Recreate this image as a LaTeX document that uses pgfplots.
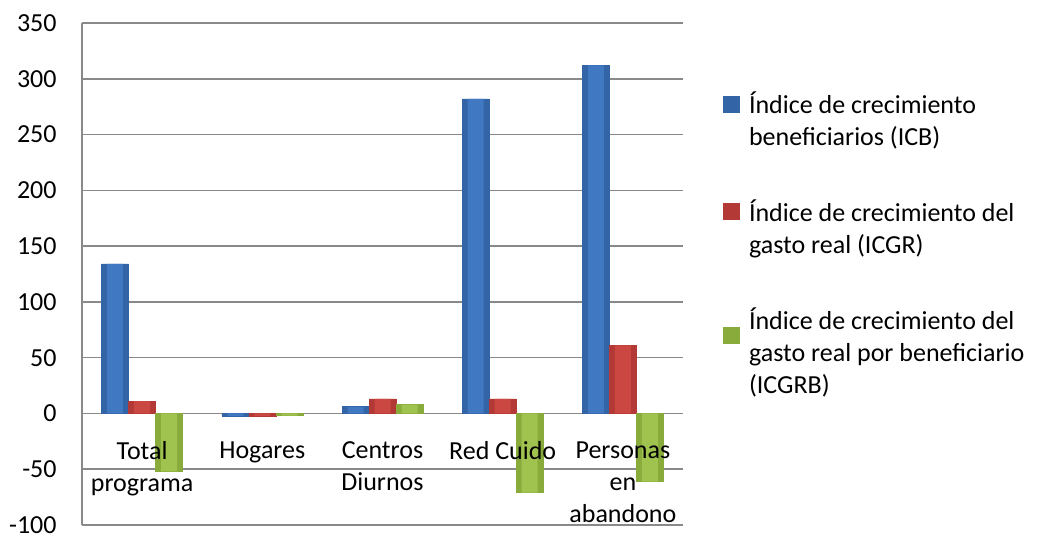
\documentclass[border=0pt]{standalone}
\usepackage{pgfplots}
\usepackage{pgfplotstable}
\pgfplotsset{compat=1.18}
\usepackage{fontspec}
\setmainfont{Carlito}
\definecolor{gridgray}{HTML}{898989}
\definecolor{bluemid}{HTML}{4079C2}
\definecolor{blueedge}{HTML}{3264A6}
\definecolor{redmid}{HTML}{CB4742}
\definecolor{rededge}{HTML}{B23935}
\definecolor{greenmid}{HTML}{A0C24F}
\definecolor{greenedge}{HTML}{88AB3C}
\pgfplotstableread{
cat ICB ICGR ICGRB
0 134 11 -52
1 -2.5 -2.5 -2
2 6 13 8
3 282 13 -71
4 312 61 -61
}\datatable
\begin{document}
\fontsize{13pt}{16pt}\selectfont
\begin{tikzpicture}
\useasboundingbox (-41pt,-6pt) rectangle (477.5pt,262.5pt);
\begin{axis}[
 at={(0,0)}, anchor=south west,
 scale only axis, width=300.5pt, height=251pt,
 ybar=0pt, bar width=13.5pt,
 xmin=-0.5, xmax=4.5, ymin=-100, ymax=350,
 ytick={-100,-50,...,350},
 xtick=\empty,
 axis x line*=middle, axis y line*=left,
 hide obscured y ticks=false,
 x axis line style={draw=none},
 y axis line style={draw=gridgray, line width=0.75pt},
 major tick length=0pt,
 ymajorgrids, grid style={draw=gridgray, line width=0.75pt},
 yticklabel style={anchor=east, inner sep=0pt, xshift=-12.5pt, font=\fontsize{13pt}{16pt}\selectfont},
 /pgf/number format/assume math mode=true,
 legend image code/.code={\path[#1, draw=none] (0pt,4.25pt) rectangle (8.5pt,12.75pt);},
 legend style={at={(axis description cs:1.0666,0.862)}, anchor=north west,
   draw=none, fill=none, inner sep=0pt, outer sep=0pt, row sep=25pt, column sep=4.5pt,
   nodes={align=left, inner sep=0pt, font=\fontsize{13pt}{16pt}\selectfont}},
 legend cell align=left,
]
\addplot[fill=blueedge, draw=blueedge, line width=0.3pt, bar shift=-13.5pt] table[x=cat, y=ICB] {\datatable};
\addplot[fill=rededge, draw=rededge, line width=0.3pt, bar shift=0pt] table[x=cat, y=ICGR] {\datatable};
\addplot[fill=greenedge, draw=greenedge, line width=0.3pt, bar shift=13.5pt] table[x=cat, y=ICGRB] {\datatable};
\addplot[forget plot, fill=bluemid, draw=none, bar width=8pt, bar shift=-13.5pt] table[x=cat, y=ICB] {\datatable};
\addplot[forget plot, fill=redmid, draw=none, bar width=8pt, bar shift=0pt] table[x=cat, y=ICGR] {\datatable};
\addplot[forget plot, fill=greenmid, draw=none, bar width=8pt, bar shift=13.5pt] table[x=cat, y=ICGRB] {\datatable};
\addplot[forget plot, sharp plot, draw=none, mark=none, point meta=explicit symbolic,
  nodes near coords, nodes near coords align={below},
  every node near coord/.style={anchor=north, align=center, inner sep=0pt, yshift=-14pt, text=black, font=\fontsize{13pt}{16pt}\selectfont}]
  coordinates {(0,0) [Total\\programa] (1,0) [Hogares] (2,0) [Centros\\Diurnos] (3,0) [Red Cuido] (4,0) [Personas\\en\\abandono]};
\legend{{Índice de crecimiento\\beneficiarios (ICB)}, {Índice de crecimiento del\\gasto real (ICGR)}, {Índice de crecimiento del\\gasto real por beneficiario\\(ICGRB)}}
\end{axis}
\end{tikzpicture}
\end{document}
